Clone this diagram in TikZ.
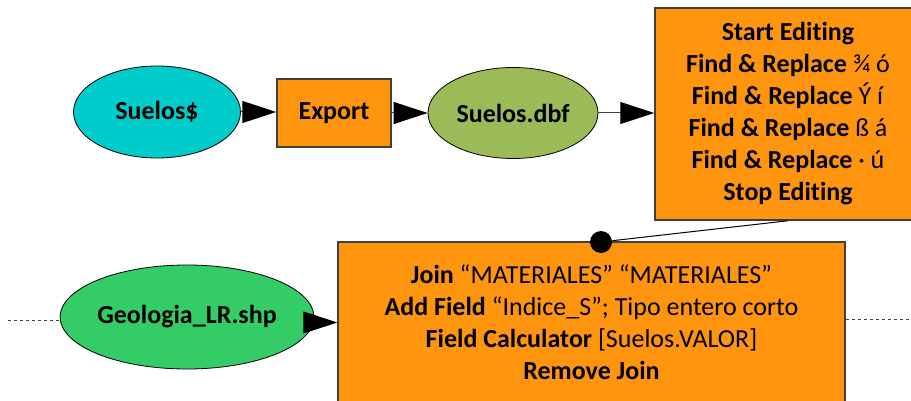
\documentclass[tikz,border=0pt]{standalone}
\usepackage{fontspec}
\setmainfont[Ligatures=NoCommon]{Carlito}
\usepackage{tikz}
\usetikzlibrary{arrows.meta,shapes.geometric}
\definecolor{mbcyan}{RGB}{0,204,204}
\definecolor{mborange}{RGB}{255,149,15}
\definecolor{mbolive}{RGB}{155,187,89}
\definecolor{mbgreen}{RGB}{51,204,102}
\definecolor{mbedge}{RGB}{64,64,64}

\begin{document}
\begin{tikzpicture}[
  x=0.5pt, y=-0.5pt,
  font=\fontsize{13}{16}\selectfont,
  data/.style={draw=black, line width=0.4pt, ellipse, inner sep=0pt, font=\fontsize{13}{16}\selectfont\bfseries},
  tool/.style={draw=mbedge, line width=0.75pt, fill=mborange, inner sep=2pt, align=center},
  flow/.style={draw=mbedge, line width=0.5pt, -{Triangle[length=17pt, width=11pt, color=black]}},
  link/.style={draw=mbedge, line width=0.5pt, dash pattern=on 1.5pt off 1.5pt},
]
\useasboundingbox (0,0) rectangle (911,401);
\node[data, fill=mbcyan, minimum width=83.5pt, minimum height=46pt] (suelos) at (157,112) {Suelos\$};
\node[tool, minimum width=57pt, minimum height=34pt, font=\fontsize{13}{16}\selectfont\bfseries] (export) at (334,113) {Export};
\node[data, fill=mbolive, minimum width=85pt, minimum height=45.5pt] (dbf) at (513,113) {Suelos.dbf};
\node[tool, minimum width=133pt, minimum height=106pt, font=\fontsize{13}{16}\selectfont\bfseries] (edit) at (788,114)
  {Start Editing\\Find \& Replace \textmd{¾ ó}\\Find \& Replace \textmd{Ý í}\\Find \& Replace \textmd{ß á}\\Find \& Replace \textmd{· ú}\\Stop Editing};
\node[data, fill=mbgreen, minimum width=110pt, minimum height=52pt] (geo) at (187,317) {Geologia\_LR.shp};
\node[tool, minimum width=253.5pt, minimum height=80.5pt] (join) at (591.5,322.5)
  {\textbf{Join} “MATERIALES” “MATERIALES”\\
   \textbf{Add Field} “Indice\_S”; Tipo entero corto\\
   \textbf{Field Calculator} [Suelos.VALOR]\\
   \textbf{Remove Join}};
\node[circle, fill=black, inner sep=0pt, minimum size=11pt] (jdot) at (601,242) {};

\draw[flow] (suelos.east) -- (suelos.east -| export.west);
\draw[flow] (export.east) -- (export.east -| dbf.west);
\draw[flow] (dbf.east) -- (dbf.east -| edit.west);
\draw[flow] (geo.east |- join.west) -- (join.west);
\draw[black, line width=0.5pt] (edit.south) -- (jdot);

\coordinate (lin) at (8,320);
\coordinate (rout) at (911,319);
\draw[link] (lin) -- (lin -| geo.west);
\draw[link] (join.east |- rout) -- (rout);
\end{tikzpicture}
\end{document}
